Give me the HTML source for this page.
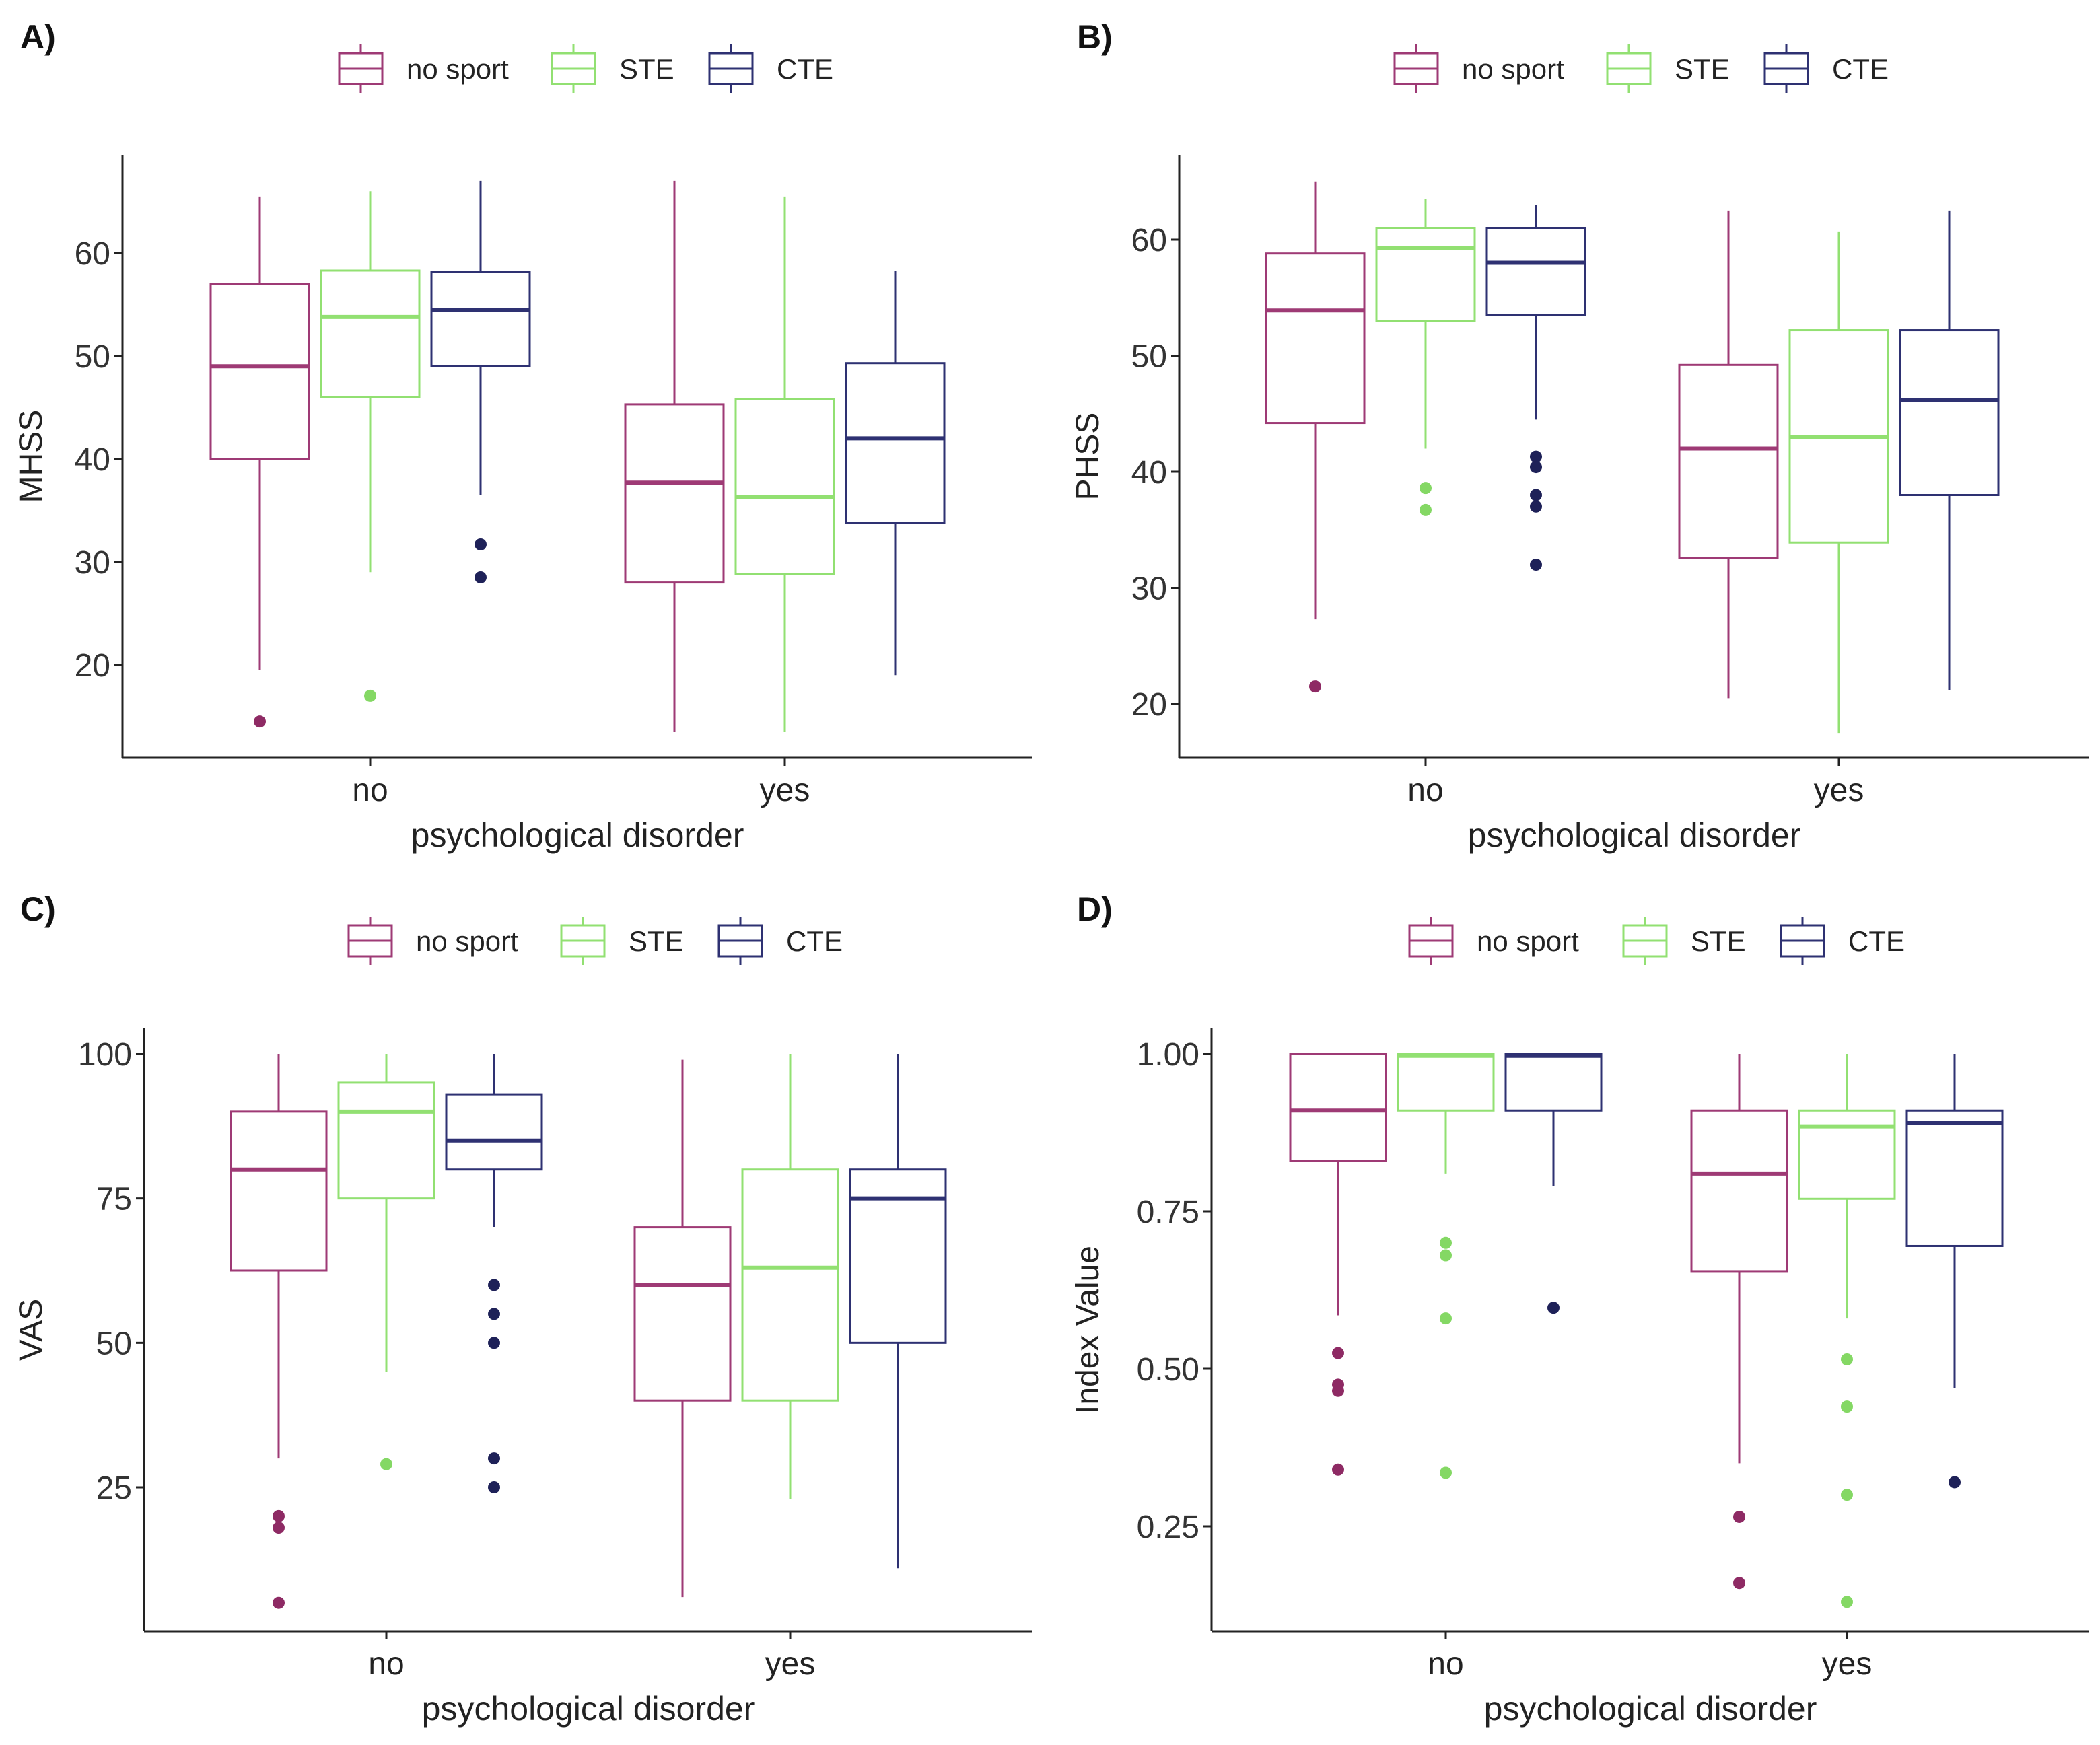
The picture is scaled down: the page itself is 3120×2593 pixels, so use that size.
<!DOCTYPE html>
<html><head><meta charset="utf-8"><style>
html,body{margin:0;padding:0;background:#fff;}
svg{display:block;font-family:"Liberation Sans",sans-serif;}
</style></head><body>
<svg id="fig" width="3120" height="2593" viewBox="0 0 3120 2593" xmlns="http://www.w3.org/2000/svg"></svg>
<script>
const groups = ["no sport","STE","CTE"];
const categories = ["no","yes"];
const colors = ["#9e3a75","#92e072","#2e3172"];
const dotColors = ["#8e2a64","#84d864","#1e2158"];

// each: [whiskerLow, q1, median, q3, whiskerHigh], order: cat no (nosport, STE, CTE), cat yes (...)
const statsA = [[19.5,40,49,57,65.5],[29,46,53.8,58.3,66],[36.5,49,54.5,58.2,67],
                [13.5,28,37.7,45.3,67],[13.5,28.8,36.3,45.8,65.5],[19,33.8,42,49.3,58.3]];
const outA = [[14.5],[17],[31.7,28.5],[],[],[]];
const statsB = [[27.3,44.2,53.9,58.8,65],[42,53,59.3,61,63.5],[44.5,53.5,58,61,63],
                [20.5,32.6,42,49.2,62.5],[17.5,33.9,43,52.2,60.7],[21.2,38,46.2,52.2,62.5]];
const outB = [[21.5],[38.6,36.7],[41.3,40.4,38,37,32],[],[],[]];
const statsC = [[30,62.5,80,90,100],[45,75,90,95,100],[70,80,85,93,100],
                [6,40,60,70,99],[23,40,63,80,100],[11,50,75,80,100]];
const outC = [[20,18,5],[29],[60,55,50,30,25],[],[],[]];
const statsD = [[0.585,0.83,0.91,1.0,1.0],[0.81,0.91,0.997,1.0,1.0],[0.79,0.91,0.997,1.0,1.0],
                [0.35,0.655,0.81,0.91,1.0],[0.58,0.77,0.885,0.91,1.0],[0.47,0.695,0.89,0.91,1.0]];
const outD = [[0.525,0.475,0.465,0.34],[0.70,0.68,0.58,0.335],[0.597],[0.265,0.16],[0.515,0.44,0.30,0.13],[0.32]];
const ticksA = [20,30,40,50,60];
const ticksB = [20,30,40,50,60];
const ticksC = [25,50,75,100];
const ticksD = [0.25,0.50,0.75,1.00];
const tickLabelsA = ["20","30","40","50","60"];
const tickLabelsB = ["20","30","40","50","60"];
const tickLabelsC = ["25","50","75","100"];
const tickLabelsD = ["0.25","0.50","0.75","1.00"];

const NS="http://www.w3.org/2000/svg";
const svg=document.getElementById('fig');
function mk(tag,attrs,parent){const e=document.createElementNS(NS,tag);for(const k in attrs)e.setAttribute(k,attrs[k]);(parent||svg).appendChild(e);return e;}

const panels=[
 {id:'a',label:'A)',lx:30,ax:182,top:230,bottom:1126,right:1534,v0:60,p0:376,v1:20,p1:988,cats:[550,1166],off:164,bw:146,ly:102,keys:[504,820,1054],title:'MHSS',stats:statsA,out:outA,ticks:ticksA,tl:tickLabelsA,ytx:46},
 {id:'b',label:'B)',lx:1600,ax:1752,top:230,bottom:1126,right:3104,v0:60,p0:356,v1:20,p1:1046,cats:[2118,2732],off:164,bw:146,ly:102,keys:[2072,2388,2622],title:'PHSS',stats:statsB,out:outB,ticks:ticksB,tl:tickLabelsB,ytx:1616},
 {id:'c',label:'C)',lx:30,ax:214,top:1528,bottom:2424,right:1534,v0:100,p0:1566,v1:25,p1:2210,cats:[574,1174],off:160,bw:142,ly:1398,keys:[518,834,1068],title:'VAS',stats:statsC,out:outC,ticks:ticksC,tl:tickLabelsC,ytx:46},
 {id:'d',label:'D)',lx:1600,ax:1800,top:1528,bottom:2424,right:3104,v0:1.0,p0:1566,v1:0.25,p1:2268,cats:[2148,2744],off:160,bw:142,ly:1398,keys:[2094,2412,2646],title:'Index Value',stats:statsD,out:outD,ticks:ticksD,tl:tickLabelsD,ytx:1616}
];

panels.forEach(P=>{
  const g=mk('g',{});
  
  
  const y=v=>P.p0+(v-P.v0)*(P.p1-P.p0)/(P.v1-P.v0);
  const lab=mk('text',{x:P.lx,y:P.ly-30,'font-size':50,'font-weight':'bold',fill:'#111'},g);lab.textContent=P.label;
  
  
  groups.forEach((gn,i)=>{
    const lg=mk('g',{},g);
    
    
    const kx=P.keys[i],c=colors[i];
    mk('line',{x1:kx+32,x2:kx+32,y1:P.ly-36,y2:P.ly+36,stroke:c,'stroke-width':3},lg);
    mk('rect',{x:kx,y:P.ly-23,width:64,height:46,fill:'#fff',stroke:c,'stroke-width':3},lg);
    mk('line',{x1:kx,x2:kx+64,y1:P.ly,y2:P.ly,stroke:c,'stroke-width':3},lg);
    const t=mk('text',{x:kx+100,y:P.ly+15,'font-size':42,fill:'#222'},lg);t.textContent=gn;
  });
  const ya=mk('line',{x1:P.ax,x2:P.ax,y1:P.top,y2:P.bottom,stroke:'#222','stroke-width':3},g);
  
  
  const xa=mk('line',{x1:P.ax,x2:P.right,y1:P.bottom,y2:P.bottom,stroke:'#222','stroke-width':3},g);
  
  
  P.ticks.forEach((tv,i)=>{
    const ty=y(tv);
    mk('line',{x1:P.ax-12,x2:P.ax,y1:ty,y2:ty,stroke:'#222','stroke-width':3},g);
    const t=mk('text',{x:P.ax-18,y:ty+17,'font-size':48,'text-anchor':'end',fill:'#333'},g);t.textContent=P.tl[i];
    
    
  });
  categories.forEach((cn,i)=>{
    const cx=P.cats[i];
    mk('line',{x1:cx,x2:cx,y1:P.bottom,y2:P.bottom+12,stroke:'#222','stroke-width':3},g);
    const t=mk('text',{x:cx,y:P.bottom+64,'font-size':48,'text-anchor':'middle',fill:'#222'},g);t.textContent=cn;
    
    
  });
  const xt=mk('text',{x:(P.ax+P.right)/2,y:P.bottom+132,'font-size':50,'text-anchor':'middle',fill:'#222'},g);xt.textContent='psychological disorder';
  
  
  const yc=(P.top+P.bottom)/2;
  const yt=mk('text',{x:P.ytx,y:yc,'font-size':48,'text-anchor':'middle',fill:'#222',transform:`rotate(-90 ${P.ytx} ${yc}) translate(0 16)`},g);yt.textContent=P.title;
  
  
  P.stats.forEach((s,k)=>{
    const ci=Math.floor(k/3),gi=k%3;
    const cx=P.cats[ci]+(gi-1)*P.off,hw=P.bw/2,c=colors[gi];
    const bg=mk('g',{},g);
    
    
    mk('line',{x1:cx,x2:cx,y1:y(s[0]),y2:y(s[1]),stroke:c,'stroke-width':3},bg);
    mk('line',{x1:cx,x2:cx,y1:y(s[3]),y2:y(s[4]),stroke:c,'stroke-width':3},bg);
    mk('rect',{x:cx-hw,y:y(s[3]),width:P.bw,height:y(s[1])-y(s[3]),fill:'#fff',stroke:c,'stroke-width':3},bg);
    mk('line',{x1:cx-hw,x2:cx+hw,y1:y(s[2]),y2:y(s[2]),stroke:c,'stroke-width':6},bg);
    P.out[k].forEach(v=>{
      const d=mk('circle',{cx:cx,cy:y(v),r:9,fill:dotColors[gi]},bg);
      
      
    });
  });
});
</script>
</body></html>
